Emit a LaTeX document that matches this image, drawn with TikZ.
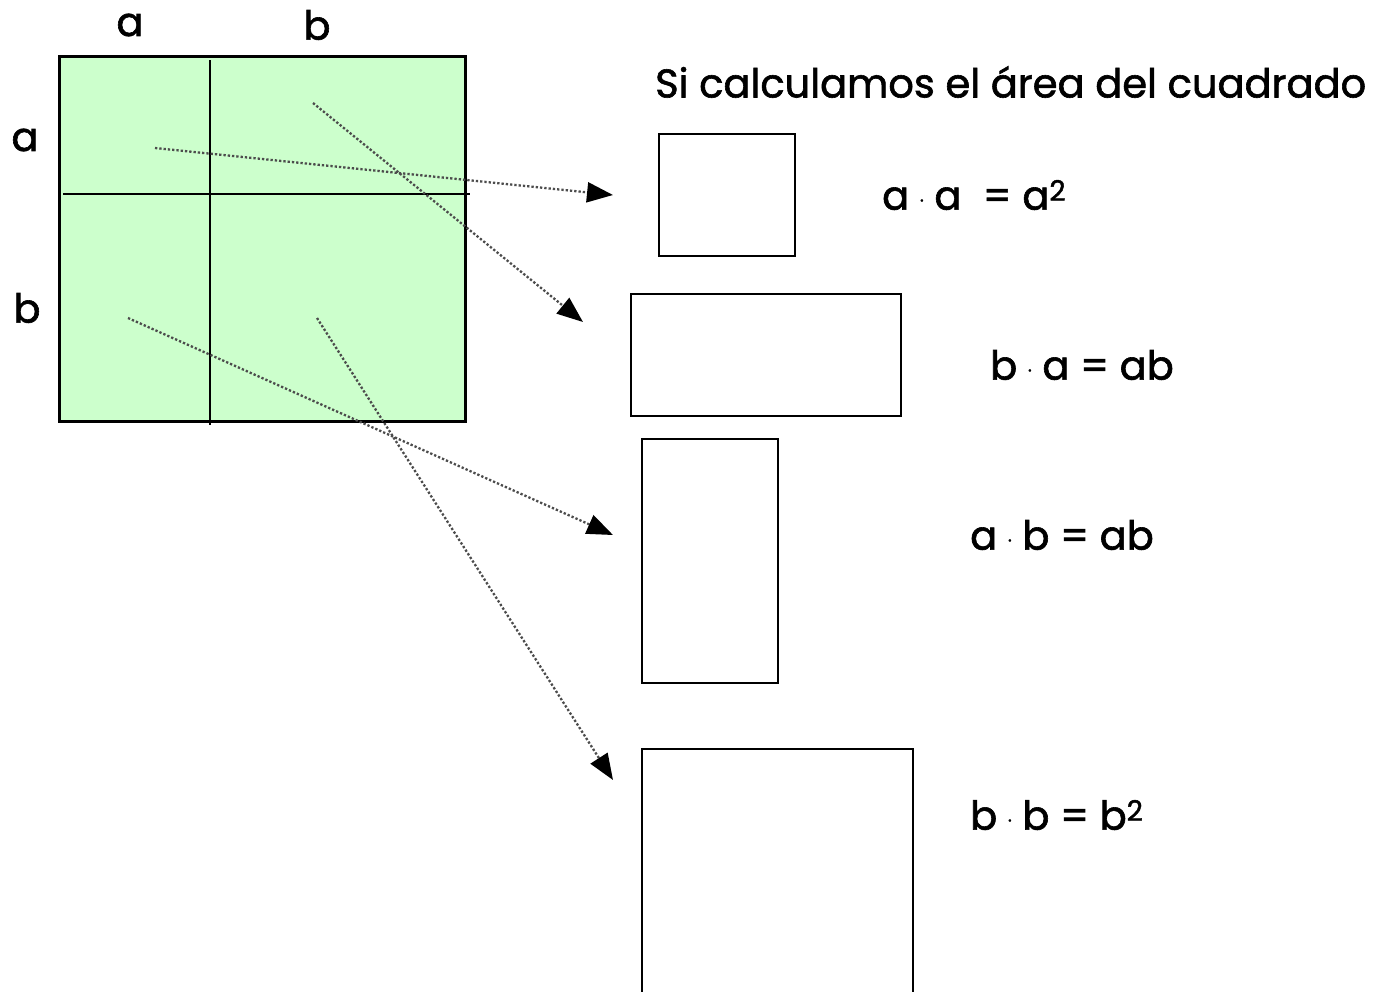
\documentclass[tikz,border=0pt]{standalone}
\usepackage{fontspec}
\setmainfont{Poppins}[FakeBold=1.5]
\usetikzlibrary{arrows.meta}
\newcommand{\mdot}{\raisebox{3pt}{\fontsize{18}{18}\selectfont·}}
\begin{document}
\begin{tikzpicture}[x=1pt,y=-1pt,
  lbl/.style={font=\fontsize{40}{40}\selectfont, inner sep=0pt},
  eq/.style={font=\fontsize{40}{40}\selectfont, inner sep=0pt, anchor=west},
  part/.style={draw, line width=2.4pt, fill=white, inner sep=0pt},
  conn/.style={dotted, line width=2.3pt, draw=black!70, -{Triangle[length=26pt,width=20pt,color=black]}},
  divide/.style={line width=2.6pt}]
\useasboundingbox (0,0) rectangle (1374,991);
\clip (0,0) rectangle (1374,991);
% big square
\node[draw, line width=2.6pt, fill={rgb,255:red,204;green,255;blue,204}, minimum width=406pt, minimum height=365pt, inner sep=0pt, anchor=north west] (sq) at (58,55) {};
\coordinate (v1) at (210,60); \coordinate (v2) at (210,425);
\coordinate (h1) at (63,194); \coordinate (h2) at (470,194);
\draw[divide] (v1) -- (v2);
\draw[divide] (h1) -- (h2);
\node[lbl] (la) at (130,25) {a};
\node[lbl] (lb) at (317,25) {b};
\node[lbl] (ra) at (25,140) {a};
\node[lbl] (rb) at (27,308) {b};
% title
\node[lbl, anchor=west] (title) at (655,82) {Si calculamos el área del cuadrado};
% part boxes
\node[part, anchor=north west, minimum width=136pt, minimum height=122pt] (b1) at (658,133) {};
\node[part, anchor=north west, minimum width=270pt, minimum height=122pt] (b2) at (630,293) {};
\node[part, anchor=north west, minimum width=136pt, minimum height=244pt] (b3) at (641,438) {};
\node[part, anchor=north west, minimum width=271pt, minimum height=260pt] (b4) at (641,748) {};
% equations
\node[eq] (e1) at (882,195) {a \mdot{} a \ = a\textsuperscript{2}};
\node[eq] (e2) at (990,365) {b \mdot{} a = ab};
\node[eq] (e3) at (970,535) {a \mdot{} b = ab};
\node[eq] (e4) at (970,815) {b \mdot{} b = b\textsuperscript{2}};
% connectors
\coordinate (s1) at (155,148); \coordinate (t1) at (613,195);
\coordinate (s2) at (313,103); \coordinate (t2) at (583,322);
\coordinate (s3) at (128,318); \coordinate (t3) at (613,535);
\coordinate (s4) at (317,318); \coordinate (t4) at (613,780);
\draw[conn] (s1) -- (t1);
\draw[conn] (s2) -- (t2);
\draw[conn] (s3) -- (t3);
\draw[conn] (s4) -- (t4);
\end{tikzpicture}
\end{document}
